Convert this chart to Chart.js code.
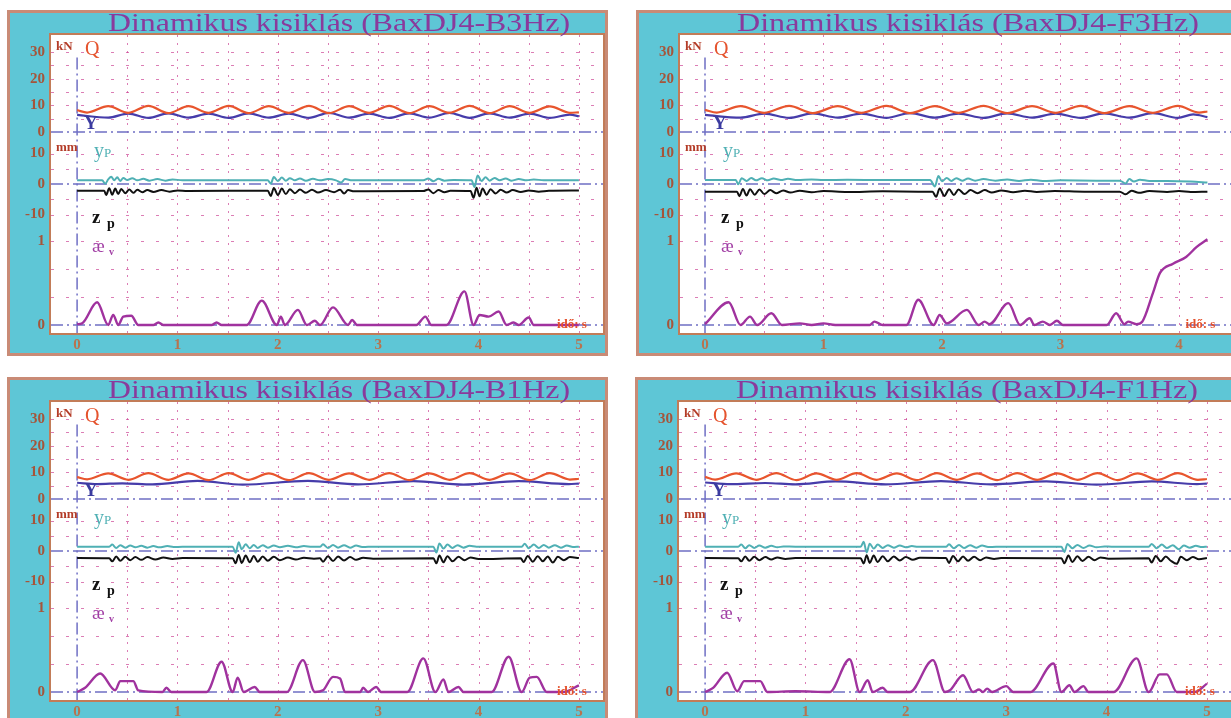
<!DOCTYPE html>
<html>
<head>
<meta charset="utf-8">
<script src="https://cdn.jsdelivr.net/npm/chart.js@4.4.0/dist/chart.umd.min.js"></script>
<style>
html, body { margin: 0; padding: 0; background: #fff; overflow: hidden; width: 1231px; height: 718px; }
canvas { position: absolute; }
</style>
</head>
<body>
<canvas id="b3" style="left:7px;top:10px" width="601" height="346"></canvas>
<canvas id="f3" style="left:636px;top:10px" width="609" height="346"></canvas>
<canvas id="b1" style="left:7px;top:377px" width="601" height="346"></canvas>
<canvas id="f1" style="left:635px;top:377px" width="601" height="346"></canvas>
<script>
// ticks / grid
const timeTicks = [0, 0.5, 1, 1.5, 2, 2.5, 3, 3.5, 4, 4.5, 5];
const timeLabels = [0, 1, 2, 3, 4, 5];
const forceTicks = [0, 5, 10, 15, 20, 25, 30];
const forceLabels = [0, 10, 20, 30];
const dispTicks = [-10, -5, 0, 5, 10];
const dispLabels = [-10, 0, 10];
const aeTicks = [0, 0.333, 0.667, 1];
const aeLabels = [0, 1];

// BaxDJ4-B3Hz  [t (s), value]
const b3Q = [[0,8.2],[0.1,7.3],[0.31,9.7],[0.51,7.2],[0.71,9.8],[0.91,7.1],[1.11,9.7],[1.31,7.2],[1.51,9.8],[1.71,7.1],[1.91,9.7],[2.11,7.2],[2.31,9.8],[2.51,7.1],[2.71,9.7],[2.91,7.2],[3.11,9.8],[3.31,7.1],[3.51,9.7],[3.71,7.2],[3.91,9.8],[4.11,7.1],[4.31,9.7],[4.51,7.2],[4.71,9.6],[4.91,7.2],[5.0,7.4]];
const b3Y = [[0,6.4],[0.31,5.4],[0.51,6.9],[0.71,5.3],[0.91,7.0],[1.11,5.4],[1.31,6.9],[1.51,5.3],[1.71,7.0],[1.91,5.4],[2.11,6.9],[2.31,5.3],[2.51,7.2],[2.71,5.4],[2.91,6.9],[3.11,5.3],[3.31,7.0],[3.51,5.4],[3.71,7.2],[3.91,5.3],[4.11,7.0],[4.31,5.4],[4.51,6.9],[4.71,5.3],[4.91,6.5],[5.0,5.9]];
const b3Yp = [[0,1.2],[0.25,1.2],[0.28,0.1],[0.31,1.5],[0.34,2.4],[0.37,1.2],[0.4,2.2],[0.43,1.0],[0.46,2.0],[0.5,1.3],[0.55,1.9],[0.6,1.2],[0.66,1.7],[0.72,1.1],[0.8,1.6],[0.88,1.1],[0.95,1.5],[1.05,1.2],[1.9,1.2],[1.93,0.1],[1.96,2.3],[2.0,1.0],[2.04,2.1],[2.08,1.1],[2.12,1.9],[2.17,1.2],[2.22,1.8],[2.28,1.1],[2.35,1.7],[2.42,1.2],[2.5,1.6],[2.58,1.2],[2.63,0.5],[2.67,1.6],[2.74,1.2],[3.45,1.2],[3.5,1.8],[3.55,0.9],[3.6,1.7],[3.66,1.1],[3.75,1.3],[3.93,1.2],[3.96,-1.0],[3.99,2.8],[4.03,1.0],[4.07,2.2],[4.11,1.1],[4.16,2.0],[4.21,1.2],[4.27,1.8],[4.33,1.1],[4.4,1.6],[4.48,1.2],[4.55,1.5],[4.65,1.2],[5.0,1.2]];
const b3Zp = [[0,-2.2],[0.27,-2.2],[0.29,-3.6],[0.32,-1.4],[0.35,-3.5],[0.38,-1.5],[0.41,-3.3],[0.44,-1.6],[0.48,-3.0],[0.52,-1.8],[0.56,-2.9],[0.6,-1.9],[0.65,-2.7],[0.7,-2.0],[0.76,-2.6],[0.84,-2.0],[0.92,-2.5],[1.0,-2.1],[1.1,-2.3],[1.9,-2.2],[1.93,-3.9],[1.96,-1.3],[2.0,-3.6],[2.04,-1.5],[2.08,-3.3],[2.12,-1.7],[2.17,-3.0],[2.22,-1.8],[2.28,-2.9],[2.34,-1.9],[2.4,-2.8],[2.48,-2.0],[2.56,-2.7],[2.62,-1.9],[2.66,-3.1],[2.7,-2.0],[2.76,-2.4],[3.45,-2.3],[3.5,-1.8],[3.55,-3.0],[3.6,-2.0],[3.66,-2.7],[3.72,-2.2],[3.92,-2.3],[3.95,-4.5],[3.98,-1.2],[4.01,-4.0],[4.04,-1.5],[4.08,-3.5],[4.12,-1.7],[4.17,-3.1],[4.22,-1.9],[4.28,-2.8],[4.34,-2.0],[4.42,-2.6],[4.5,-2.1],[4.6,-2.5],[4.7,-2.2],[5.0,-2.1]];
const b3Ae = [[0,0.01],[0.05,0.02],[0.2,0.27],[0.31,0],[0.36,0.12],[0.41,0],[0.46,0.1],[0.54,0.11],[0.61,0],[0.76,0],[0.81,0.03],[0.86,0],[1.34,0],[1.39,0.03],[1.44,0],[1.69,0],[1.84,0.29],[1.99,0],[2.03,0.1],[2.07,0],[2.2,0.18],[2.29,0],[2.37,0.05],[2.42,0],[2.55,0.21],[2.7,0],[2.74,0.06],[2.79,0],[3.38,0],[3.47,0.1],[3.53,0],[3.68,0],[3.86,0.4],[3.95,0],[4.01,0.12],[4.1,0.1],[4.2,0.16],[4.28,0],[4.35,0.03],[4.4,0],[4.5,0.09],[4.55,0],[5.0,0]];

// BaxDJ4-F3Hz
const f3Q = [[0,8.3],[0.1,7.3],[0.3,9.7],[0.5,7.2],[0.71,9.8],[0.91,7.1],[1.12,9.7],[1.32,7.2],[1.53,9.8],[1.73,7.1],[1.94,9.7],[2.14,7.2],[2.35,9.8],[2.55,7.1],[2.76,9.7],[2.96,7.2],[3.17,9.8],[3.37,7.1],[3.58,9.7],[3.78,7.2],[3.99,9.8],[4.17,7.3],[4.24,7.7]];
const f3Y = [[0,6.4],[0.3,5.4],[0.5,6.9],[0.71,5.3],[0.91,7.0],[1.12,5.4],[1.32,6.9],[1.53,5.3],[1.73,7.1],[1.94,5.4],[2.14,6.9],[2.35,5.3],[2.55,7.0],[2.76,5.4],[2.96,6.9],[3.17,5.3],[3.37,7.0],[3.58,5.4],[3.78,7.1],[3.99,5.3],[4.12,6.6],[4.24,5.6]];
const f3Yp = [[0,1.3],[0.26,1.3],[0.28,-0.1],[0.31,1.9],[0.35,1.0],[0.39,2.0],[0.43,1.2],[0.48,1.9],[0.53,1.2],[0.58,1.8],[0.64,1.3],[0.7,1.7],[0.78,1.3],[0.9,1.5],[1.0,1.3],[1.2,1.4],[1.5,1.3],[1.9,1.3],[1.94,-0.8],[1.97,2.6],[2.0,0.9],[2.04,2.0],[2.08,1.0],[2.12,1.9],[2.17,1.1],[2.22,1.8],[2.28,1.1],[2.35,1.6],[2.45,1.1],[2.55,1.5],[2.65,1.0],[2.75,1.4],[2.85,1.0],[3.0,1.2],[3.3,1.1],[3.5,1.1],[3.55,0.2],[3.58,1.6],[3.62,0.8],[3.67,1.4],[3.75,1.0],[3.9,1.0],[4.1,0.8],[4.24,0.5]];
const f3Zp = [[0,-2.5],[0.27,-2.5],[0.29,-4.0],[0.32,-1.6],[0.35,-3.8],[0.38,-1.7],[0.42,-3.5],[0.46,-1.8],[0.5,-3.3],[0.55,-2.0],[0.6,-3.0],[0.66,-2.1],[0.72,-2.8],[0.8,-2.2],[0.9,-2.7],[1.0,-2.3],[1.2,-2.6],[1.5,-2.4],[1.8,-2.5],[1.92,-2.5],[1.95,-4.2],[1.98,-1.5],[2.02,-3.9],[2.06,-1.7],[2.1,-3.6],[2.14,-1.8],[2.19,-3.3],[2.24,-2.0],[2.3,-3.0],[2.36,-2.0],[2.42,-2.8],[2.5,-2.1],[2.6,-2.7],[2.7,-2.2],[2.8,-2.6],[2.95,-2.3],[3.2,-2.5],[3.5,-2.5],[3.55,-3.4],[3.6,-2.2],[3.66,-2.9],[3.75,-2.3],[3.9,-2.6],[4.0,-2.3],[4.1,-2.6],[4.24,-2.5]];
const f3Ae = [[0,0.01],[0.2,0.27],[0.3,0],[0.38,0.1],[0.44,0],[0.56,0.14],[0.65,0],[0.8,0.02],[0.9,0],[1.0,0.02],[1.1,0],[1.39,0],[1.43,0.04],[1.5,0],[1.7,0],[1.8,0.3],[1.93,0],[1.98,0.12],[2.04,0.02],[2.21,0.18],[2.31,0],[2.36,0.04],[2.4,0.01],[2.56,0.26],[2.66,0],[2.74,0.08],[2.78,0],[2.85,0.04],[2.91,0],[2.97,0.05],[3.02,0],[3.39,0],[3.47,0.14],[3.54,0.01],[3.57,0.04],[3.64,0.01],[3.69,0.04],[3.78,0.38],[3.84,0.62],[3.95,0.73],[4.06,0.81],[4.15,0.93],[4.24,1.02]];

// BaxDJ4-B1Hz
const b1Q = [[0,8.2],[0.1,7.4],[0.31,9.6],[0.51,7.2],[0.71,9.7],[0.91,7.2],[1.11,9.6],[1.31,7.1],[1.51,9.7],[1.71,7.2],[1.91,9.6],[2.11,7.1],[2.31,9.7],[2.51,7.2],[2.71,9.6],[2.91,7.2],[3.11,9.7],[3.31,7.1],[3.51,9.6],[3.71,7.2],[3.91,9.7],[4.11,7.2],[4.31,9.6],[4.51,7.1],[4.71,9.7],[4.91,7.3],[5.0,7.6]];
const b1Y = [[0,6.1],[0.2,5.6],[0.45,5.9],[0.75,5.5],[1.2,6.8],[1.65,5.4],[2.3,6.8],[2.8,5.5],[3.35,6.7],[3.85,5.4],[4.4,6.7],[4.9,5.6],[5.0,5.8]];
const b1Yp = [[0,1.4],[0.32,1.4],[0.35,2.1],[0.39,1.0],[0.43,1.9],[0.48,1.1],[0.53,1.8],[0.58,1.2],[0.64,1.7],[0.7,1.1],[0.76,1.6],[0.82,1.2],[0.9,1.6],[0.96,1.3],[1.05,1.4],[1.55,1.4],[1.58,-0.6],[1.61,2.9],[1.64,0.6],[1.68,2.2],[1.72,0.9],[1.76,2.0],[1.8,1.0],[1.85,1.9],[1.9,1.1],[1.96,1.8],[2.02,1.2],[2.1,1.7],[2.18,1.2],[2.26,1.6],[2.34,1.4],[2.42,1.4],[2.45,2.2],[2.5,1.0],[2.55,2.0],[2.6,1.1],[2.66,1.9],[2.72,1.1],[2.78,1.8],[2.84,1.3],[2.9,1.4],[3.55,1.4],[3.58,-0.5],[3.61,2.5],[3.65,0.8],[3.69,2.1],[3.74,1.0],[3.79,1.9],[3.85,1.1],[3.91,1.7],[3.98,1.4],[4.43,1.4],[4.46,2.4],[4.5,0.9],[4.55,2.1],[4.6,1.0],[4.65,2.0],[4.7,1.1],[4.76,1.9],[4.82,1.1],[4.88,1.8],[4.94,1.3],[5.0,1.4]];
const b1Zp = [[0,-2.3],[0.32,-2.4],[0.35,-3.4],[0.39,-1.8],[0.43,-3.2],[0.48,-1.9],[0.53,-3.0],[0.58,-2.0],[0.64,-2.9],[0.7,-2.0],[0.78,-2.8],[0.86,-2.1],[0.95,-2.6],[1.05,-2.3],[1.55,-2.4],[1.58,-4.0],[1.61,-1.3],[1.64,-3.9],[1.68,-1.5],[1.72,-3.7],[1.76,-1.6],[1.8,-3.5],[1.85,-1.8],[1.9,-3.2],[1.96,-1.9],[2.02,-3.0],[2.1,-2.1],[2.18,-2.8],[2.26,-2.2],[2.36,-2.5],[2.42,-2.4],[2.45,-3.5],[2.5,-1.7],[2.55,-3.3],[2.6,-1.8],[2.66,-3.1],[2.72,-2.0],[2.78,-2.9],[2.85,-2.2],[2.95,-2.5],[3.55,-2.4],[3.58,-4.0],[3.61,-1.5],[3.65,-3.7],[3.69,-1.7],[3.74,-3.4],[3.8,-1.9],[3.86,-3.0],[3.92,-2.1],[4.0,-2.6],[4.42,-2.4],[4.45,-3.6],[4.49,-1.6],[4.54,-3.5],[4.59,-1.7],[4.64,-3.4],[4.69,-1.8],[4.74,-3.8],[4.79,-1.9],[4.85,-3.0],[4.91,-2.0],[5.0,-2.3]];
const b1Ae = [[0,0],[0.08,0.05],[0.23,0.22],[0.38,0.02],[0.43,0.13],[0.56,0.13],[0.61,0.02],[0.85,0],[0.89,0.05],[0.94,0],[1.29,0],[1.44,0.36],[1.55,0],[1.6,0.17],[1.66,0],[1.77,0.06],[1.82,0],[2.09,0],[2.25,0.38],[2.37,0],[2.45,0.02],[2.55,0.18],[2.62,0.16],[2.67,0],[2.82,0],[2.85,0.05],[2.9,0],[2.98,0.06],[3.03,0],[3.29,0],[3.45,0.4],[3.57,0],[3.65,0.15],[3.7,0],[3.8,0.06],[3.85,0],[4.13,0],[4.3,0.42],[4.43,0],[4.51,0.17],[4.58,0.18],[4.68,0],[4.85,0],[5.0,0.08]];

// BaxDJ4-F1Hz
const f1Q = [[0,8.3],[0.1,7.3],[0.31,9.6],[0.51,7.2],[0.71,9.7],[0.91,7.1],[1.11,9.6],[1.31,7.2],[1.51,9.7],[1.71,7.2],[1.91,9.6],[2.11,7.1],[2.31,9.7],[2.51,7.2],[2.71,9.6],[2.91,7.1],[3.11,9.7],[3.31,7.2],[3.51,9.6],[3.71,7.2],[3.91,9.7],[4.11,7.1],[4.31,9.6],[4.51,7.2],[4.71,9.7],[4.91,7.2],[5.0,7.5]];
const f1Y = [[0,6.2],[0.25,5.6],[0.6,6.0],[0.9,5.5],[1.3,6.6],[1.8,5.5],[2.35,6.7],[2.85,5.5],[3.4,6.6],[3.9,5.4],[4.45,6.6],[4.9,5.6],[5.0,5.8]];
const f1Yp = [[0,1.4],[0.33,1.4],[0.36,2.1],[0.4,0.9],[0.44,1.9],[0.49,1.0],[0.54,1.8],[0.6,1.1],[0.66,1.7],[0.72,1.2],[0.78,1.5],[0.9,1.4],[1.55,1.4],[1.58,3.0],[1.61,-0.5],[1.64,2.4],[1.68,0.8],[1.72,2.1],[1.77,1.0],[1.82,1.9],[1.88,1.1],[1.94,1.8],[2.0,1.2],[2.06,1.6],[2.12,1.4],[2.4,1.4],[2.43,2.2],[2.48,0.9],[2.53,2.0],[2.58,1.0],[2.64,1.9],[2.7,1.1],[2.76,1.8],[2.82,1.3],[2.9,1.4],[3.55,1.4],[3.58,-0.3],[3.61,2.3],[3.66,0.9],[3.71,2.0],[3.77,1.0],[3.83,1.8],[3.9,1.2],[3.98,1.5],[4.05,1.4],[4.42,1.4],[4.45,2.3],[4.5,0.9],[4.55,2.1],[4.6,1.0],[4.66,1.9],[4.72,0.6],[4.77,1.8],[4.83,1.1],[4.89,1.7],[4.95,1.3],[5.0,1.4]];
const f1Zp = [[0,-2.3],[0.33,-2.4],[0.36,-3.4],[0.4,-1.8],[0.44,-3.2],[0.49,-1.9],[0.54,-3.0],[0.6,-2.0],[0.66,-2.8],[0.72,-2.1],[0.8,-2.6],[0.9,-2.3],[1.55,-2.4],[1.58,-4.1],[1.61,-1.4],[1.64,-3.9],[1.68,-1.5],[1.72,-3.6],[1.77,-1.7],[1.82,-3.4],[1.88,-1.8],[1.94,-3.1],[2.0,-2.0],[2.07,-2.9],[2.14,-2.2],[2.4,-2.3],[2.43,-3.9],[2.47,-1.6],[2.52,-3.4],[2.57,-1.8],[2.62,-3.2],[2.68,-1.9],[2.74,-3.0],[2.8,-2.1],[2.88,-2.6],[2.95,-2.3],[3.55,-2.4],[3.58,-4.0],[3.62,-1.5],[3.66,-3.6],[3.71,-1.7],[3.76,-3.3],[3.82,-1.9],[3.88,-3.0],[3.94,-2.1],[4.02,-2.5],[4.42,-2.4],[4.45,-3.8],[4.49,-1.6],[4.54,-3.4],[4.59,-1.8],[4.64,-3.2],[4.7,-4.2],[4.74,-1.9],[4.8,-3.0],[4.86,-2.0],[4.92,-2.7],[5.0,-2.3]];
const f1Ae = [[0,0],[0.08,0.05],[0.22,0.23],[0.32,0.01],[0.39,0.13],[0.55,0.13],[0.62,0],[0.9,0.01],[1.24,0],[1.44,0.39],[1.54,0],[1.62,0.14],[1.67,0],[1.77,0.05],[1.82,0],[2.04,0],[2.27,0.38],[2.39,0],[2.44,0.02],[2.57,0.2],[2.67,0],[2.73,0.03],[2.77,0],[2.81,0.04],[2.86,0],[3.0,0.07],[3.07,0],[3.24,0],[3.47,0.34],[3.55,0],[3.63,0.08],[3.68,0],[3.77,0.07],[3.82,0],[4.07,0],[4.3,0.4],[4.42,0],[4.53,0.21],[4.6,0.21],[4.7,0],[4.88,0],[5.0,0.1]];

const serif = '"Liberation Serif", "DejaVu Serif", serif';

const txt = (ctx, s, x, y, font, color, align) => {
    ctx.font = font;
    ctx.fillStyle = color;
    ctx.textAlign = align || 'left';
    ctx.fillText(s, x, y);
};

// background, frame, grid, zero lines and labels
const scope = {
    id: 'scope',
    beforeDraw(chart, args, options) {
        const {ctx, width, height, chartArea: {left, top, right, bottom}} = chart;
        ctx.save();
        ctx.fillStyle = '#5ec6d6';
        ctx.fillRect(0, 0, width, height);
        ctx.strokeStyle = '#c98b76';
        ctx.lineWidth = 3;
        ctx.strokeRect(1.5, 1.5, width - 3, height - 3);
        ctx.fillStyle = '#fff';
        ctx.fillRect(left, top, right - left, bottom - top);
        ctx.strokeStyle = '#c27c58';
        ctx.lineWidth = 2;
        ctx.strokeRect(left - 1, top - 1, right - left + 2, bottom - top + 2);

        ctx.font = '25px ' + serif;
        ctx.fillStyle = '#8a3a9c';
        ctx.textAlign = 'center';
        const w = ctx.measureText(options.text).width;
        ctx.translate(332, 21);
        ctx.scale(462 / w, 1);
        ctx.fillText(options.text, 0, 0);
        ctx.restore();
    },
    beforeDatasetsDraw(chart) {
        const {ctx, chartArea: {left, top, right, bottom}, scales: {x, yF, yD, yA}} = chart;
        ctx.save();
        ctx.lineWidth = 1;
        ctx.strokeStyle = 'rgba(205,70,150,0.7)';
        ctx.setLineDash([3, 12]);
        const rows = [];
        forceTicks.forEach(v => { if (v != 0) rows.push(yF.getPixelForValue(v)); });
        dispTicks.forEach(v => { if (v != 0) rows.push(yD.getPixelForValue(v)); });
        aeTicks.forEach(v => { if (v != 0) rows.push(yA.getPixelForValue(v)); });
        rows.forEach(py => {
            ctx.beginPath();
            ctx.moveTo(left, Math.round(py) + 0.5);
            ctx.lineTo(right, Math.round(py) + 0.5);
            ctx.stroke();
        });
        ctx.setLineDash([2, 6]);
        timeTicks.forEach(t => {
            if (t == 0 || t > x.max) return;
            const px = Math.round(x.getPixelForValue(t)) + 0.5;
            ctx.beginPath();
            ctx.moveTo(px, top);
            ctx.lineTo(px, bottom);
            ctx.stroke();
        });

        // dash-dot zero lines
        ctx.strokeStyle = '#6f6fc4';
        ctx.lineWidth = 1.5;
        ctx.setLineDash([12, 4, 2, 4]);
        [yF.getPixelForValue(0), yD.getPixelForValue(0), yA.getPixelForValue(0)].forEach(py => {
            ctx.beginPath();
            ctx.moveTo(left, py);
            ctx.lineTo(right, py);
            ctx.stroke();
        });
        const x0 = x.getPixelForValue(0);
        ctx.beginPath();
        ctx.moveTo(x0, yF.getPixelForValue(28));
        ctx.lineTo(x0, bottom);
        ctx.stroke();
        ctx.restore();
    },
    afterDatasetsDraw(chart, args, options) {
        const {ctx, chartArea: {left}, scales: {x, yF, yD, yA}} = chart;
        ctx.save();
        ctx.textBaseline = 'alphabetic';
        txt(ctx, 'kN', left + 5, yF.getPixelForValue(30) - 2, 'bold 13px ' + serif, '#b43c28');
        txt(ctx, 'Q', left + 34, yF.getPixelForValue(28.8), '20px ' + serif, '#e5532d');
        txt(ctx, 'Y', left + 33, yF.getPixelForValue(1.3), 'bold 19px ' + serif, '#3b3ba0');
        txt(ctx, 'mm', left + 5, yD.getPixelForValue(10.8), 'bold 13px ' + serif, '#b43c28');
        txt(ctx, 'y', left + 43, yD.getPixelForValue(9.0), '20px ' + serif, '#4fb0b4');
        txt(ctx, 'P', left + 53, yD.getPixelForValue(9.0), '13px ' + serif, '#4fb0b4');
        txt(ctx, 'z', left + 41, yA.getPixelForValue(1.21), 'bold 19px ' + serif, '#111');
        txt(ctx, 'p', left + 56, yA.getPixelForValue(1.21) + 5, 'bold 14px ' + serif, '#111');
        txt(ctx, 'æ', left + 41, yA.getPixelForValue(0.87), '19px ' + serif, '#a23fa5');
        txt(ctx, 'v', left + 58, yA.getPixelForValue(0.87) + 3, 'bold 10px ' + serif, '#a23fa5');
        txt(ctx, 'idő: s', x.getPixelForValue(options.xEnd) + 8, yA.getPixelForValue(0) + 3, 'bold 13px ' + serif, '#e4502c', 'right');
        ctx.restore();
    }
};

const line = (data, color, axis, width) => ({
    data: data.map(p => ({x: p[0], y: p[1]})),
    borderColor: color,
    borderWidth: width,
    yAxisID: axis,
    pointRadius: 0,
    fill: false,
    cubicInterpolationMode: 'monotone'
});

const yAxis = (min, max, weight, labels, order) => ({
    type: 'linear',
    position: 'left',
    stack: 'scope',
    stackWeight: weight,
    weight: order,
    min: min,
    max: max,
    afterBuildTicks: axis => { axis.ticks = labels.map(v => ({value: v})); },
    afterFit: axis => { axis.width = 40; },
    grid: {display: false, drawTicks: false},
    border: {display: false},
    ticks: {
        autoSkip: false,
        padding: 6,
        color: '#a5553a',
        font: {family: serif, size: 15, weight: 'bold'}
    }
});

const createPanel = (id, title, xMin, xMax, q, y, yp, zp, ae) => {
    const xEnd = q[q.length - 1][0];
    return new Chart(document.getElementById(id), {
        type: 'line',
        data: {
            datasets: [
                line(q, '#e8552d', 'yF', 2.2),
                line(y, '#463caa', 'yF', 2.2),
                line(yp, '#4fb0b4', 'yD', 2),
                line(zp, '#111111', 'yD', 2),
                line(ae, '#a0329e', 'yA', 2.4)
            ]
        },
        options: {
            responsive: false,
            devicePixelRatio: 1,
            animation: false,
            events: [],
            layout: {padding: {top: 25, left: 4, right: 5, bottom: 0}},
            scales: {
                x: {
                    type: 'linear',
                    min: xMin,
                    max: xMax,
                    afterBuildTicks: axis => {
                        axis.ticks = timeLabels.filter(v => v <= xMax).map(v => ({value: v}));
                    },
                    afterFit: axis => { axis.height = 23; },
                    grid: {display: false, drawTicks: false},
                    border: {display: false},
                    ticks: {
                        autoSkip: false,
                        maxRotation: 0,
                        padding: 3,
                        color: '#b8734e',
                        font: {family: serif, size: 15, weight: 'bold'}
                    }
                },
                yA: yAxis(-0.095, 1.315, 118.5, aeLabels, 1),
                yD: yAxis(-10, 17.05, 82.5, dispLabels, 2),
                yF: yAxis(0, 36.4, 97, forceLabels, 3)
            },
            plugins: {
                legend: {display: false},
                tooltip: {enabled: false},
                title: {display: false},
                scope: {text: title, xEnd: xEnd}
            }
        },
        plugins: [scope]
    });
};

createPanel('b3', 'Dinamikus kisiklás (BaxDJ4-B3Hz)', -0.26, 5.24, b3Q, b3Y, b3Yp, b3Zp, b3Ae);
createPanel('f3', 'Dinamikus kisiklás (BaxDJ4-F3Hz)', -0.211, 4.515, f3Q, f3Y, f3Yp, f3Zp, f3Ae);
createPanel('b1', 'Dinamikus kisiklás (BaxDJ4-B1Hz)', -0.26, 5.24, b1Q, b1Y, b1Yp, b1Zp, b1Ae);
createPanel('f1', 'Dinamikus kisiklás (BaxDJ4-F1Hz)', -0.26, 5.24, f1Q, f1Y, f1Yp, f1Zp, f1Ae);
</script>
</body>
</html>
